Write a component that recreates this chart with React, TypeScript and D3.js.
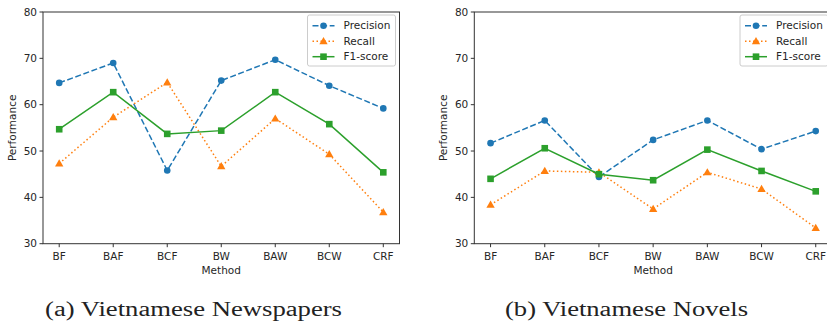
import React from "react";
import * as d3 from "d3";

const methods = ["BF", "BAF", "BCF", "BW", "BAW", "BCW", "CRF"];
const yTicks = [30, 40, 50, 60, 70, 80];
const seriesNames = ["Precision", "Recall", "F1-score"];

const newsPrecision = [64.7, 69.0, 45.8, 65.2, 69.7, 64.1, 59.2];
const newsRecall = [47.3, 57.3, 64.8, 46.7, 57.0, 49.3, 36.8];
const newsF1 = [54.7, 62.7, 53.7, 54.4, 62.7, 55.8, 45.4];

const novelPrecision = [51.7, 56.6, 44.4, 52.4, 56.6, 50.4, 54.3];
const novelRecall = [38.4, 45.7, 45.4, 37.5, 45.4, 41.8, 33.4];
const novelF1 = [44.0, 50.6, 45.0, 43.7, 50.3, 45.7, 41.3];

const captions = ["(a) Vietnamese Newspapers", "(b) Vietnamese Novels"];

const COLORS = ["#1f77b4", "#ff7f0e", "#2ca02c"];
const DASH = ["6,2.6", "1.5,2.5", ""];
const FONT = "'DejaVu Sans', sans-serif";
const TXT = "#262626";

function Marker({ kind, x, y, color }: { kind: number; x: number; y: number; color: string }) {
  if (kind === 0) return <circle cx={x} cy={y} r={3.3} fill={color} />;
  if (kind === 1) {
    const s = d3.symbol().type(d3.symbolTriangle).size(30)();
    return <path d={s as string} transform={`translate(${x},${y + 0.6})`} fill={color} />;
  }
  return <rect x={x - 3.3} y={y - 3.3} width={6.6} height={6.6} fill={color} />;
}

function Panel({ left, right, data, caption, captionX, captionW }: any) {
  const top = 12;
  const bottom = 243.7;
  const n = methods.length;
  const x = d3.scaleLinear().domain([-0.3, n - 1 + 0.3]).range([left, right]);
  const y = d3.scaleLinear().domain([30, 80]).range([bottom, top]);
  const line = d3
    .line<number>()
    .x((_, i) => x(i))
    .y((d) => y(d));
  const legX = right - 92;
  return (
    <g>
      {data.map((vals: number[], s: number) => (
        <g key={s}>
          <path d={line(vals) as string} fill="none" stroke={COLORS[s]} strokeWidth={1.5} strokeDasharray={DASH[s]} />
          {vals.map((v, i) => (
            <Marker key={i} kind={s} x={x(i)} y={y(v)} color={COLORS[s]} />
          ))}
        </g>
      ))}
      <rect x={left} y={top} width={right - left} height={bottom - top} fill="none" stroke="#333" strokeWidth={1} />
      {yTicks.map((t) => (
        <g key={t}>
          <line x1={left - 3.5} x2={left} y1={y(t)} y2={y(t)} stroke="#333" strokeWidth={1} />
          <text x={left - 6} y={y(t)} dy="0.35em" textAnchor="end" fontSize={10.5} fontFamily={FONT} fill={TXT}>
            {t}
          </text>
        </g>
      ))}
      {methods.map((m, i) => (
        <g key={m}>
          <line x1={x(i)} x2={x(i)} y1={bottom} y2={bottom + 3.5} stroke="#333" strokeWidth={1} />
          <text x={x(i)} y={bottom + 16} textAnchor="middle" fontSize={10.5} fontFamily={FONT} fill={TXT}>
            {m}
          </text>
        </g>
      ))}
      <text x={(left + right) / 2} y={274} textAnchor="middle" fontSize={10.5} fontFamily={FONT} fill={TXT}>
        Method
      </text>
      <text
        transform={`translate(${left - 27},${(top + bottom) / 2}) rotate(-90)`}
        textAnchor="middle"
        fontSize={10.5}
        fontFamily={FONT}
        fill={TXT}
      >
        Performance
      </text>
      <g>
        <rect x={legX} y={15} width={88} height={51} rx={2} fill="white" fillOpacity={0.85} stroke="#ccc" strokeWidth={1} />
        {seriesNames.map((nm, s) => {
          const ly = 25.7 + s * 15.5;
          return (
            <g key={nm}>
              <line x1={legX + 5} x2={legX + 27} y1={ly} y2={ly} stroke={COLORS[s]} strokeWidth={1.5} strokeDasharray={DASH[s]} />
              <Marker kind={s} x={legX + 16} y={ly} color={COLORS[s]} />
              <text x={legX + 36} y={ly} dy="0.35em" fontSize={10.5} fontFamily={FONT} fill={TXT}>
                {nm}
              </text>
            </g>
          );
        })}
      </g>
      <text
        x={captionX}
        y={315.5}
        fontSize={20}
        fontFamily="'Liberation Serif', 'DejaVu Serif', serif"
        fill="#222"
        textLength={captionW}
        lengthAdjust="spacingAndGlyphs"
      >
        {caption}
      </text>
    </g>
  );
}

export default function App() {
  return (
    <svg width={827} height={323} style={{ position: "absolute", left: 0, top: 0, background: "white" }}>
      <Panel
        left={43}
        right={399.5}
        data={[newsPrecision, newsRecall, newsF1]}
        caption={captions[0]}
        captionX={45}
        captionW={297}
      />
      <Panel
        left={474.3}
        right={832}
        data={[novelPrecision, novelRecall, novelF1]}
        caption={captions[1]}
        captionX={505}
        captionW={243}
      />
    </svg>
  );
}
